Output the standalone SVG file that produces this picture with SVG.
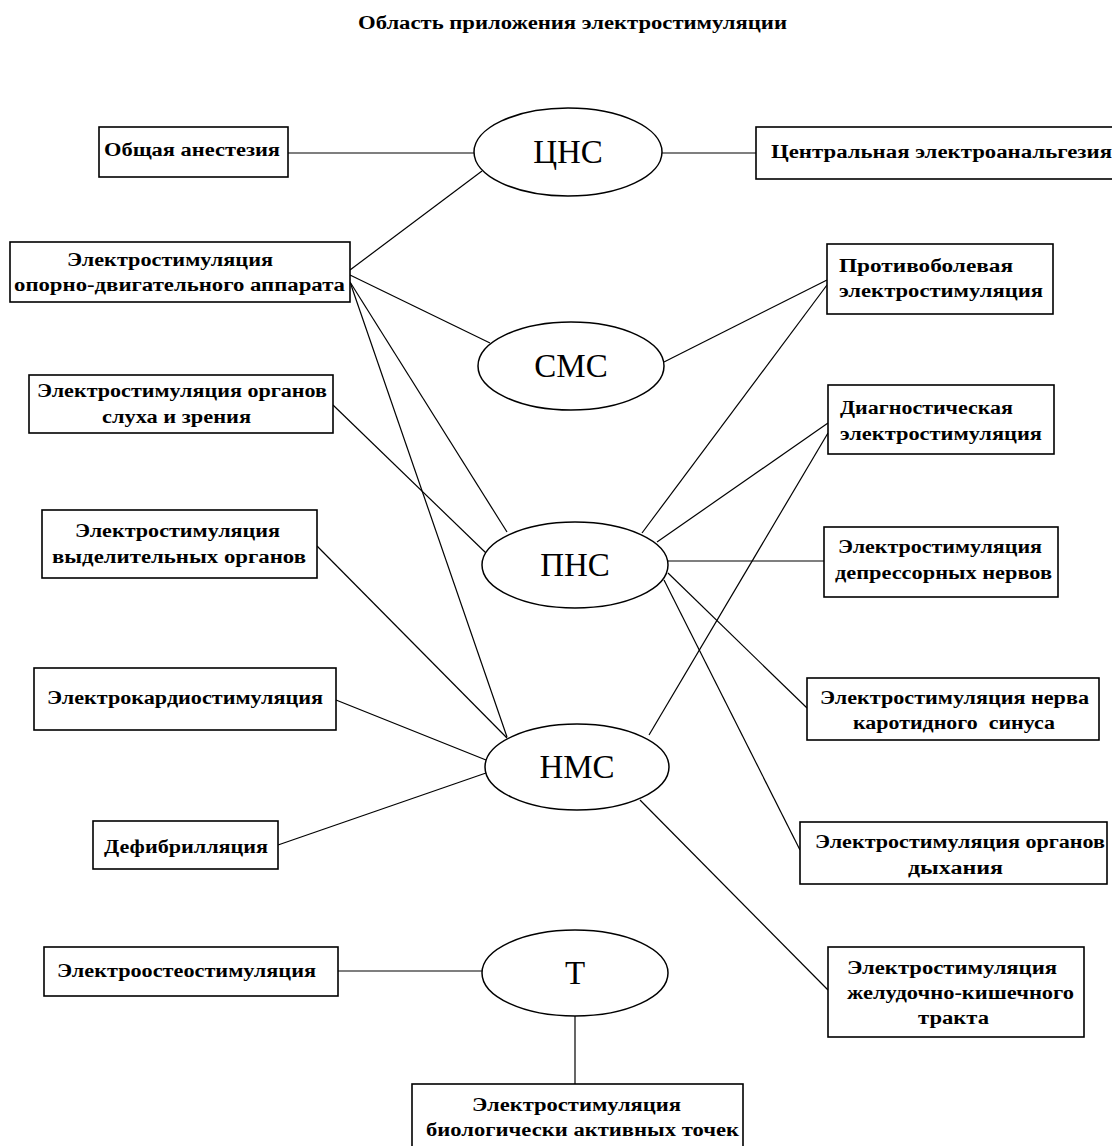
<svg xmlns="http://www.w3.org/2000/svg" width="1112" height="1146" viewBox="0 0 1112 1146">
<style>
.bg{fill:#fff}
.box{fill:#fff;stroke:#000;stroke-width:1.6}
.ell{fill:#fff;stroke:#000;stroke-width:1.5}
.con{stroke:#000;stroke-width:1.2;fill:none}
.t{font-family:"Liberation Serif","Times New Roman",serif;font-weight:bold;font-size:18px;fill:#000}
.e{font-family:"Liberation Serif","Times New Roman",serif;font-size:33px;fill:#000;text-anchor:middle}
</style>
<rect class="bg" x="0" y="0" width="1112" height="1146"/>
<text class="t" x="358" y="29" textLength="429" lengthAdjust="spacingAndGlyphs">Область приложения электростимуляции</text>
<g id="connectors">
<line class="con" x1="288" y1="153" x2="474" y2="153"/>
<line class="con" x1="661" y1="153" x2="756" y2="153"/>
<line class="con" x1="350" y1="270" x2="482" y2="171"/>
<line class="con" x1="350" y1="275" x2="490" y2="343"/>
<line class="con" x1="350" y1="282" x2="507" y2="532"/>
<line class="con" x1="350" y1="282" x2="507" y2="737"/>
<line class="con" x1="333" y1="405" x2="486" y2="553"/>
<line class="con" x1="317" y1="546" x2="507" y2="738"/>
<line class="con" x1="336" y1="700" x2="486" y2="760"/>
<line class="con" x1="278" y1="845" x2="486" y2="773"/>
<line class="con" x1="664" y1="362" x2="827" y2="280"/>
<line class="con" x1="642" y1="533" x2="827" y2="285"/>
<line class="con" x1="657" y1="542" x2="828" y2="423"/>
<line class="con" x1="649" y1="735" x2="828" y2="433"/>
<line class="con" x1="668" y1="561" x2="824" y2="561"/>
<line class="con" x1="668" y1="573" x2="807" y2="708"/>
<line class="con" x1="664" y1="580" x2="800" y2="850"/>
<line class="con" x1="640" y1="800" x2="828" y2="990"/>
<line class="con" x1="338" y1="971" x2="482" y2="971"/>
<line class="con" x1="575" y1="1016" x2="575" y2="1084"/>
</g>
<g id="cns"><ellipse class="ell" cx="568" cy="152" rx="94" ry="44"/><text class="e" x="568" y="163">ЦНС</text></g>
<g id="sms"><ellipse class="ell" cx="571" cy="366" rx="93" ry="44"/><text class="e" x="571" y="377">СМС</text></g>
<g id="pns"><ellipse class="ell" cx="575" cy="565" rx="93" ry="43"/><text class="e" x="575" y="576">ПНС</text></g>
<g id="nms"><ellipse class="ell" cx="577" cy="767" rx="92" ry="43"/><text class="e" x="577" y="778">НМС</text></g>
<g id="t"><ellipse class="ell" cx="575" cy="973" rx="93" ry="43"/><text class="e" x="575" y="984">Т</text></g>
<g id="b-anest"><rect class="box" x="99" y="127" width="189" height="50"/><text class="t" x="104" y="156" textLength="176" lengthAdjust="spacingAndGlyphs">Общая анестезия</text></g>
<g id="b-central"><rect class="box" x="756" y="127" width="370" height="52"/><text class="t" x="771" y="158" textLength="341" lengthAdjust="spacingAndGlyphs">Центральная электроанальгезия</text></g>
<g id="b-opora"><rect class="box" x="10" y="242" width="340" height="60"/><text class="t" x="67" y="266" textLength="206" lengthAdjust="spacingAndGlyphs">Электростимуляция</text><text class="t" x="14" y="291" textLength="331" lengthAdjust="spacingAndGlyphs">опорно-двигательного аппарата</text></g>
<g id="b-protivobol"><rect class="box" x="827" y="244" width="226" height="70"/><text class="t" x="839" y="272" textLength="174" lengthAdjust="spacingAndGlyphs">Противоболевая</text><text class="t" x="839" y="297" textLength="204" lengthAdjust="spacingAndGlyphs">электростимуляция</text></g>
<g id="b-sluh"><rect class="box" x="29" y="375" width="304" height="58"/><text class="t" x="37" y="397" textLength="290" lengthAdjust="spacingAndGlyphs">Электростимуляция органов</text><text class="t" x="102" y="423" textLength="149" lengthAdjust="spacingAndGlyphs">слуха и зрения</text></g>
<g id="b-vydel"><rect class="box" x="42" y="510" width="275" height="68"/><text class="t" x="75" y="537" textLength="205" lengthAdjust="spacingAndGlyphs">Электростимуляция</text><text class="t" x="52" y="563" textLength="254" lengthAdjust="spacingAndGlyphs">выделительных органов</text></g>
<g id="b-diagn"><rect class="box" x="828" y="385" width="226" height="69"/><text class="t" x="840" y="414" textLength="173" lengthAdjust="spacingAndGlyphs">Диагностическая</text><text class="t" x="840" y="440" textLength="202" lengthAdjust="spacingAndGlyphs">электростимуляция</text></g>
<g id="b-depress"><rect class="box" x="824" y="527" width="234" height="70"/><text class="t" x="838" y="553" textLength="204" lengthAdjust="spacingAndGlyphs">Электростимуляция</text><text class="t" x="835" y="579" textLength="217" lengthAdjust="spacingAndGlyphs">депрессорных нервов</text></g>
<g id="b-kardio"><rect class="box" x="34" y="668" width="302" height="62"/><text class="t" x="47" y="704" textLength="276" lengthAdjust="spacingAndGlyphs">Электрокардиостимуляция</text></g>
<g id="b-defib"><rect class="box" x="93" y="821" width="185" height="48"/><text class="t" x="104" y="853" textLength="164" lengthAdjust="spacingAndGlyphs">Дефибрилляция</text></g>
<g id="b-nerv"><rect class="box" x="807" y="678" width="292" height="62"/><text class="t" x="820" y="704" textLength="269" lengthAdjust="spacingAndGlyphs">Электростимуляция нерва</text><text class="t" x="853" y="729" textLength="202" lengthAdjust="spacingAndGlyphs" xml:space="preserve">каротидного  синуса</text></g>
<g id="b-dyh"><rect class="box" x="800" y="822" width="307" height="62"/><text class="t" x="815" y="848" textLength="290" lengthAdjust="spacingAndGlyphs">Электростимуляция органов</text><text class="t" x="908" y="874" textLength="95" lengthAdjust="spacingAndGlyphs">дыхания</text></g>
<g id="b-zhkt"><rect class="box" x="828" y="947" width="256" height="90"/><text class="t" x="847" y="974" textLength="210" lengthAdjust="spacingAndGlyphs">Электростимуляция</text><text class="t" x="847" y="999" textLength="227" lengthAdjust="spacingAndGlyphs">желудочно-кишечного</text><text class="t" x="918" y="1024" textLength="71" lengthAdjust="spacingAndGlyphs">тракта</text></g>
<g id="b-osteo"><rect class="box" x="44" y="947" width="294" height="49"/><text class="t" x="57" y="977" textLength="259" lengthAdjust="spacingAndGlyphs">Электроостеостимуляция</text></g>
<g id="b-bat"><rect class="box" x="412" y="1084" width="331" height="80"/><text class="t" x="472" y="1111" textLength="209" lengthAdjust="spacingAndGlyphs">Электростимуляция</text><text class="t" x="426" y="1136" textLength="313" lengthAdjust="spacingAndGlyphs">биологически активных точек</text></g>
</svg>
